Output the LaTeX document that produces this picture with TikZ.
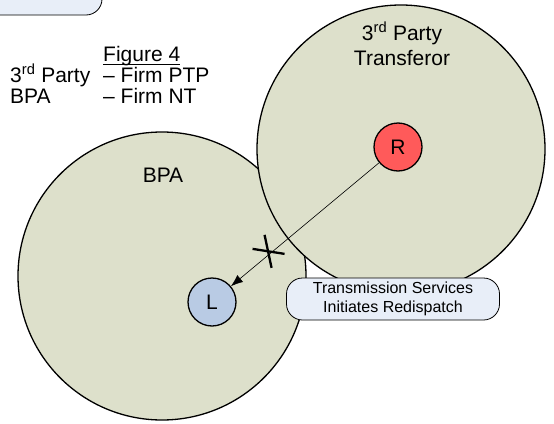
\documentclass[tikz,border=0pt]{standalone}
\usepackage{fontspec}
\setmainfont{Liberation Sans}
\usetikzlibrary{positioning}
\usetikzlibrary{arrows.meta}
\definecolor{zonefill}{RGB}{221,224,203}
\definecolor{boxfill}{RGB}{232,238,248}
\definecolor{genred}{RGB}{255,90,90}
\definecolor{loadblue}{RGB}{185,203,228}
\tikzset{%
  zone/.style = {circle,draw,line width=1.3pt,fill=zonefill,
        minimum size=288pt,inner sep=0pt},
  bus/.style = {circle,draw,line width=1.3pt,minimum size=48pt,
        inner sep=0pt,font=\fontsize{21}{25}\selectfont},
  big/.style = {inner sep=0pt,font=\fontsize{21}{25}\selectfont},
  note/.style = {rectangle,rounded corners=16pt,draw,line width=0.8pt,
        fill=boxfill,align=center,font=\fontsize{16}{19}\selectfont}
}
\begin{document}
\begin{tikzpicture}[x=1pt,y=-1pt]
                \useasboundingbox (0,0) rectangle (554,423);
                % box cut off at the top left
                \draw[line width=0.8pt,fill=boxfill,rounded corners=16pt] (-30,-40) rectangle (102,15);

                \node[big,anchor=base west] (fig) at (103,61) {Figure 4};
                \draw[line width=0.9pt] ([yshift=-3pt]fig.base west) -- ([yshift=-3pt]fig.base east);
                \node[big,anchor=base west] (ptp) [below=21pt of fig.base west,anchor=base west] {– Firm PTP};
                \node[big,anchor=base west] (nt) [below=21pt of ptp.base west,anchor=base west] {– Firm NT};
                \node[big,anchor=base west] (tp) at (10,82) {3\textsuperscript{rd} Party};
                \node[big,anchor=base west] (bp) [below=21pt of tp.base west,anchor=base west] {BPA};

                \node[zone] (bpazone) at (162,276) {};
                \node[zone] (tpzone) at (401,149) {};
                \node[big] (bpalbl) at (163,175) {BPA};
                \node[big,align=center] (tplbl) at (402,44) {3\textsuperscript{rd} Party\\Transferor};

                \node[bus,fill=genred] (r) at (398,147) {R};
                \node[bus,fill=loadblue] (l) at (212,302) {L};

                \draw[-{Latex[length=12pt,width=9pt]},line width=0.6pt] (r) -- coordinate[pos=0.746] (cut) (l);
                \draw[line width=2.3pt] (cut) ++(-16,-6) -- ++(32,5);
                \draw[line width=2.3pt] (cut) ++(-4,-20) -- ++(7,33);

                \node[note,minimum width=213pt,minimum height=42pt] (ts) at (393,299) {Transmission Services\\Initiates Redispatch};
\end{tikzpicture}
\end{document}
